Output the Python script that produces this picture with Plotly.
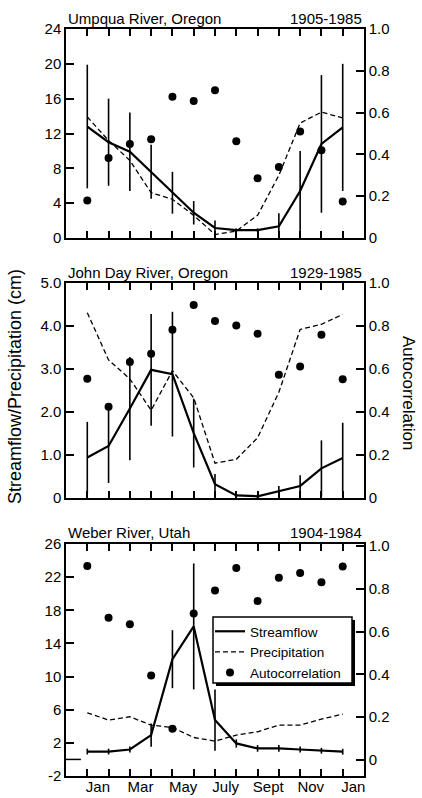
import plotly.graph_objects as go

# ---------------- data ----------------
months = list(range(13))  # Jan .. Jan
month_labels = ["Jan", "Mar", "May", "July", "Sept", "Nov", "Jan"]
label_pos = [0.5, 2.5, 4.5, 6.5, 8.5, 10.5, 12.5]

# Umpqua River, Oregon (1905-1985)
umpqua_flow = [12.8, 11.0, 9.9, 7.6, 5.2, 2.9, 1.15, 0.9, 0.9, 1.35, 5.4, 10.8, 12.7]
umpqua_flow_sd = [7.1, 5.0, 4.5, 3.1, 2.4, 1.35, 0.85, 0.2, 0.2, 1.5, 4.6, 7.9, 7.3]
umpqua_precip = [13.9, 11.2, 8.9, 5.2, 4.45, 2.6, 0.4, 0.8, 2.6, 7.2, 13.2, 14.45, 13.8]
umpqua_auto = [0.18, 0.383, 0.45, 0.473, 0.676, 0.655, 0.707, 0.463, 0.286, 0.34, 0.51, 0.42, 0.175]

# John Day River, Oregon (1929-1985)
johnday_flow = [0.94, 1.21, 2.08, 2.98, 2.88, 1.51, 0.32, 0.06, 0.04, 0.16, 0.28, 0.69, 0.93]
johnday_flow_sd = [0.83, 0.86, 1.2, 1.3, 1.45, 0.8, 0.24, 0.04, 0.04, 0.12, 0.25, 0.65, 0.82]
johnday_precip = [4.31, 3.21, 2.77, 2.04, 2.96, 2.33, 0.81, 0.9, 1.4, 2.46, 3.92, 4.04, 4.27]
johnday_auto = [0.555, 0.424, 0.633, 0.671, 0.782, 0.898, 0.823, 0.802, 0.764, 0.573, 0.612, 0.759, 0.552]

# Weber River, Utah (1904-1984)
weber_flow = [0.95, 0.95, 1.2, 2.94, 12.1, 16.05, 4.75, 1.93, 1.33, 1.33, 1.2, 1.05, 0.93]
weber_flow_sd = [0.35, 0.35, 0.35, 1.4, 3.5, 7.6, 3.7, 0.5, 0.4, 0.4, 0.35, 0.35, 0.35]
weber_precip = [5.63, 4.75, 5.15, 4.14, 3.86, 2.65, 2.21, 2.94, 3.34, 4.14, 4.14, 4.87, 5.47]
weber_auto = [0.907, 0.665, 0.635, 0.395, 0.146, 0.685, 0.792, 0.898, 0.743, 0.852, 0.874, 0.831, 0.905]

titles = ["Umpqua River, Oregon", "John Day River, Oregon", "Weber River, Utah"]
periods = ["1905-1985", "1929-1985", "1904-1984"]
series_names = ["Streamflow", "Precipitation", "Autocorrelation"]

left_ticks = [
    ([0, 4, 8, 12, 16, 20, 24], ["0", "4", "8", "12", "16", "20", "24"]),
    ([0, 1, 2, 3, 4, 5], ["0", "1.0", "2.0", "3.0", "4.0", "5.0"]),
    ([-2, 2, 6, 10, 14, 18, 22, 26], ["-2", "2", "6", "10", "14", "18", "22", "26"]),
]
right_vals = [0, 0.2, 0.4, 0.6, 0.8, 1.0]
right_text = ["0", "0.2", "0.4", "0.6", "0.8", "1.0"]

# ---------------- styling ----------------
FONT = "Liberation Sans, Arial, Helvetica, sans-serif"
BLACK = "black"
W, H = 422, 798
ML, MR, MT, MB = 66, 58, 10, 22
plot_h = H - MT - MB
pw = W - ML - MR

def ydom(top_px, bot_px):
    return [(H - MB - bot_px) / plot_h, (H - MB - top_px) / plot_h]

def px_x(px):
    return (px - ML) / pw

def px_y(px):
    return (H - MB - px) / plot_h

domains = [ydom(29, 238), ydom(283, 498), ydom(544, 776)]
left_ranges = [[0, 24], [0, 5], [-2, 26]]
right_ranges = [[0, 1.0], [0, 1.0], [-0.075, 1.01]]

flows = [umpqua_flow, johnday_flow, weber_flow]
sds = [umpqua_flow_sd, johnday_flow_sd, weber_flow_sd]
precs = [umpqua_precip, johnday_precip, weber_precip]
autos = [umpqua_auto, johnday_auto, weber_auto]

line_flow = dict(color=BLACK, width=2.2)
line_prec = dict(color=BLACK, width=1.3, dash="5px,3px")
mark_auto = dict(color=BLACK, size=8)

fig = go.Figure()
layout = dict(
    template="none",
    width=W, height=H,
    margin=dict(l=ML, r=MR, t=MT, b=MB, autoexpand=False),
    paper_bgcolor="white", plot_bgcolor="white",
    font=dict(family=FONT, size=15, color=BLACK),
    showlegend=True,
    hovermode=False,
)

for i in range(3):
    xn = "x" if i == 0 else f"x{i+1}"
    yl = 2 * i + 1
    yr = 2 * i + 2
    yln = "y" if yl == 1 else f"y{yl}"
    yrn = f"y{yr}"
    leg = (i == 2)
    fig.add_trace(go.Scatter(
        x=months, y=flows[i], xaxis=xn, yaxis=yln, mode="lines",
        name=series_names[0], showlegend=leg,
        line=line_flow,
        error_y=dict(type="data", array=sds[i], visible=True, color=BLACK,
                     thickness=1.6, width=0),
    ))
    fig.add_trace(go.Scatter(
        x=months, y=precs[i], xaxis=xn, yaxis=yln, mode="lines",
        name=series_names[1], showlegend=leg,
        line=line_prec,
    ))
    fig.add_trace(go.Scatter(
        x=months, y=autos[i], xaxis=xn, yaxis=yrn, mode="markers",
        name=series_names[2], showlegend=leg,
        marker=mark_auto,
    ))

    xk = "xaxis" if i == 0 else f"xaxis{i+1}"
    layout[xk] = dict(
        domain=[0, 1], anchor=yln, range=[-1, 13],
        tickvals=months, ticks="inside", ticklen=7, tickwidth=1.5, tickcolor=BLACK,
        showticklabels=False, showline=True, linewidth=1.5, linecolor=BLACK,
        mirror="ticks", showgrid=False, zeroline=False, automargin=False,
    )
    ylk = "yaxis" if yl == 1 else f"yaxis{yl}"
    layout[ylk] = dict(
        domain=domains[i], anchor=xn, range=left_ranges[i],
        tickvals=left_ticks[i][0], ticktext=left_ticks[i][1],
        ticks="inside", ticklen=8, tickwidth=1.5, tickcolor=BLACK,
        showline=True, linewidth=1.5, linecolor=BLACK,
        showgrid=False, zeroline=False, tickfont=dict(size=15), automargin=False,
    )
    layout[f"yaxis{yr}"] = dict(
        overlaying=yln, side="right", anchor=xn, range=right_ranges[i],
        tickvals=right_vals, ticktext=right_text,
        ticks="inside", ticklen=8, tickwidth=1.5, tickcolor=BLACK,
        showline=True, linewidth=1.5, linecolor=BLACK,
        showgrid=False, zeroline=False, tickfont=dict(size=15), automargin=False,
    )

# month labels for the bottom panel (between tick marks)
layout["xaxis4"] = dict(
    overlaying="x3", anchor="y5", side="bottom", range=[-1, 13],
    tickvals=label_pos, ticktext=month_labels, ticks="", showline=False,
    showgrid=False, zeroline=False, tickfont=dict(size=15), automargin=False,
)
fig.add_trace(go.Scatter(x=[None], y=[None], xaxis="x4", yaxis="y5",
                         showlegend=False, hoverinfo="skip"))

annotations = []
title_y = [px_y(18), px_y(272), px_y(532)]
for i in range(3):
    annotations.append(dict(text=titles[i], x=0.0, y=title_y[i], xref="paper", yref="paper",
                            xanchor="left", yanchor="middle", showarrow=False,
                            font=dict(size=15)))
    annotations.append(dict(text=periods[i], x=1.0, y=title_y[i], xref="paper", yref="paper",
                            xanchor="right", yanchor="middle", showarrow=False,
                            font=dict(size=15)))
annotations.append(dict(text="Streamflow/Precipitation (cm)", textangle=-90,
                        x=px_x(15), y=px_y(387),
                        xref="paper", yref="paper", xanchor="center", yanchor="middle",
                        showarrow=False, font=dict(size=18)))
annotations.append(dict(text="Autocorrelation", textangle=90,
                        x=px_x(409), y=px_y(393),
                        xref="paper", yref="paper", xanchor="center", yanchor="middle",
                        showarrow=False, font=dict(size=17)))
layout["annotations"] = annotations

# legend frame drawn as shapes; legend itself is transparent and borderless on top
BOX_L, BOX_T, BOX_R, BOX_B = 213, 617, 352, 683
layout["legend"] = dict(x=px_x(210), y=px_y(616), xanchor="left", yanchor="top",
                        bgcolor="rgba(0,0,0,0)", borderwidth=0,
                        itemwidth=30, tracegroupgap=0, font=dict(size=13.5))

layout["shapes"] = [
    # longer zero tick on bottom panel
    dict(type="line", xref="x3", yref="y5", x0=-1, x1=-0.3, y0=0, y1=0,
         line=dict(color=BLACK, width=1.5)),
    # legend drop shadow
    dict(type="rect", xref="paper", yref="paper",
         x0=px_x(BOX_L + 3), x1=px_x(BOX_R + 3),
         y0=px_y(BOX_B + 3), y1=px_y(BOX_T + 3),
         fillcolor=BLACK, line=dict(width=0), layer="above"),
    # legend frame
    dict(type="rect", xref="paper", yref="paper",
         x0=px_x(BOX_L), x1=px_x(BOX_R),
         y0=px_y(BOX_B), y1=px_y(BOX_T),
         fillcolor="white", line=dict(color=BLACK, width=1.5), layer="above"),
]

fig.update_layout(**layout)
fig.write_html("out.html", config={"displayModeBar": False},
               post_script="document.body.style.margin='0px';")
